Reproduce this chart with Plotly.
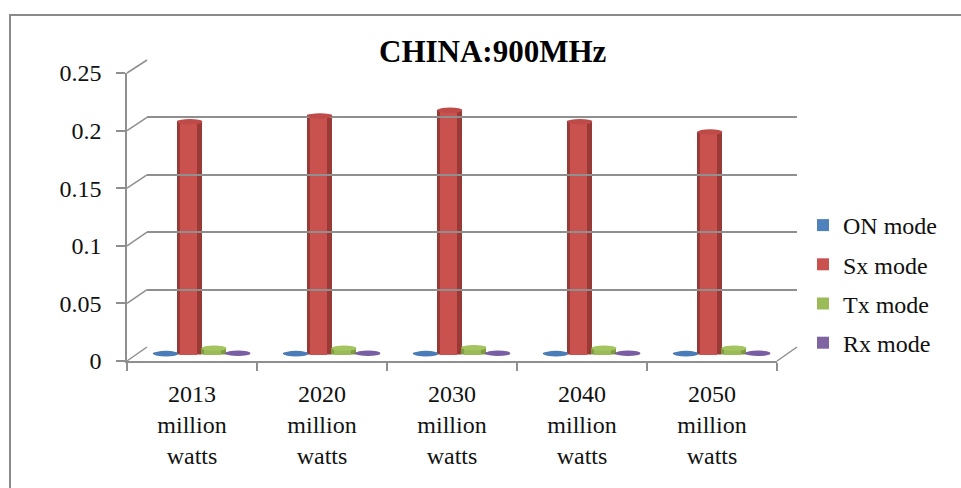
import plotly.graph_objects as go

# ---- data -------------------------------------------------------------
years = ["2013", "2020", "2030", "2040", "2050"]
category_labels = [f"{y}<br>million<br>watts" for y in years]

series_names = ["ON mode", "Sx mode", "Tx mode", "Rx mode"]
on_mode = [0.0003, 0.0003, 0.0003, 0.0003, 0.0003]
sx_mode = [0.202, 0.207, 0.212, 0.202, 0.193]
tx_mode = [0.005, 0.005, 0.0055, 0.005, 0.005]
rx_mode = [0.0006, 0.0006, 0.0006, 0.0006, 0.0006]

y_ticks = [0, 0.05, 0.1, 0.15, 0.2, 0.25]

# ---- styling ----------------------------------------------------------
W, H = 961, 488
FONT = "Liberation Serif"
GRID = "#8f8f8f"
TEXT = "#111111"
# series colours, darker edges and cap colours for a rounded (cylinder) look
base = {"ON mode": "#4F81BD", "Sx mode": "#C9524F",
        "Tx mode": "#9BBB59", "Rx mode": "#8064A2"}
edge = {"ON mode": "#3A6699", "Sx mode": "#9A3A37",
        "Tx mode": "#7E9C41", "Rx mode": "#63488A"}
cap = {"ON mode": "#4A7CB8", "Sx mode": "#BE4B48",
       "Tx mode": "#A3C45F", "Rx mode": "#7A5EA3"}

# pseudo-3D box, pixel geometry (front face, back wall, mid depth)
FRONT_X0, FRONT_X1, FRONT_Y0, FRONT_Y1 = 127, 777, 361, 73
BACK_X0, BACK_X1, BACK_Y0, BACK_Y1 = 147, 797, 347, 60
MID_X0, MID_X1, MID_Y0, MID_Y1 = 137, 787, 354, 66.5
Y_MAX = 0.25
Y_PAD = 0.0005   # keeps the top back-wall gridline inside the range
Y_LO = -0.005    # room below zero so floor-level caps are not clipped
CAP_HALF = 2.8 * Y_MAX / (MID_Y0 - MID_Y1)  # half cap height, ~2.8 px


def px(x):
    return x / W


def py(y):
    return 1 - y / H


def front_y(v):
    return FRONT_Y0 + (FRONT_Y1 - FRONT_Y0) * v / Y_MAX


def back_y(v):
    return BACK_Y0 + (BACK_Y1 - BACK_Y0) * v / Y_MAX


def mid_y(v):
    return MID_Y0 + (MID_Y1 - MID_Y0) * v / Y_MAX


fig = go.Figure()

values = [on_mode, sx_mode, tx_mode, rx_mode]
bar_w = 0.19
step = 0.185
centers = [-1.5 * step, -0.5 * step, 0.5 * step, 1.5 * step]

# darker cylinder outlines
for name, vals, c in zip(series_names, values, centers):
    fig.add_trace(go.Bar(
        x=years, y=vals, name=name, legendgroup=name, showlegend=False,
        width=bar_w, offset=c - bar_w / 2,
        marker=dict(color=edge[name], line=dict(color=edge[name], width=1)),
        xaxis="x", yaxis="y", hoverinfo="skip",
    ))
# main cylinder faces (legend entries)
for name, vals, c in zip(series_names, values, centers):
    w2 = bar_w * 0.72
    fig.add_trace(go.Bar(
        x=years, y=vals, name=name, legendgroup=name,
        width=w2, offset=c - bar_w / 2 + bar_w * 0.08,
        marker=dict(color=base[name], line=dict(width=0)),
        xaxis="x", yaxis="y", hoverinfo="skip",
    ))

# back wall grid holder and front axes holder
fig.add_trace(go.Scatter(x=[0, 1], y=[0, 0], mode="none", showlegend=False,
                         xaxis="x2", yaxis="y2", hoverinfo="skip"))
fig.add_trace(go.Scatter(x=years, y=[0] * len(years), mode="none",
                         showlegend=False, xaxis="x3", yaxis="y3",
                         hoverinfo="skip"))

shapes = []
# elliptical cylinder tops, placed from each bar's value
for name, vals, c in zip(series_names, values, centers):
    for i, v in enumerate(vals):
        shapes.append(dict(type="circle", xref="x", yref="y",
                           x0=i + c - bar_w / 2, x1=i + c + bar_w / 2,
                           y0=v - CAP_HALF, y1=v + CAP_HALF,
                           fillcolor=cap[name], line=dict(width=0),
                           layer="above"))

# side-wall / floor diagonals joining the front axis to the back wall
for v in y_ticks:
    shapes.append(dict(type="line", xref="paper", yref="paper",
                       x0=px(FRONT_X0), y0=py(front_y(v)),
                       x1=px(BACK_X0), y1=py(back_y(v)),
                       line=dict(color=GRID, width=1.5), layer="below"))
shapes.append(dict(type="line", xref="paper", yref="paper",
                   x0=px(FRONT_X1), y0=py(front_y(0)),
                   x1=px(BACK_X1), y1=py(back_y(0)),
                   line=dict(color=GRID, width=1.5), layer="below"))
# outer chart frame
shapes.append(dict(type="rect", xref="paper", yref="paper",
                   x0=px(10), y0=py(15), x1=1.05, y1=-0.05,
                   line=dict(color="#8a8a8a", width=2), layer="below"))

fig.update_layout(
    width=W, height=H,
    margin=dict(l=0, r=0, t=0, b=0, autoexpand=False),
    paper_bgcolor="white", plot_bgcolor="rgba(0,0,0,0)",
    barmode="overlay", bargap=0,
    font=dict(family=FONT, size=24, color=TEXT),
    showlegend=True,
    legend=dict(x=px(803), y=py(284), xanchor="left", yanchor="middle",
                traceorder="grouped", tracegroupgap=5,
                font=dict(family=FONT, size=24, color=TEXT),
                bgcolor="rgba(0,0,0,0)", itemwidth=30),
    shapes=shapes,
    annotations=[dict(text="<b>CHINA:900MHz</b>", xref="paper", yref="paper",
                      x=px(493), y=py(51), xanchor="center", yanchor="middle",
                      showarrow=False,
                      font=dict(family=FONT, size=31, color="#000000"))],
    # bars at mid depth
    xaxis=dict(domain=[px(MID_X0), px(MID_X1)], anchor="y",
               type="category", categoryarray=years, range=[-0.5, 4.5],
               visible=False, automargin=False),
    yaxis=dict(domain=[py(mid_y(Y_LO)), py(MID_Y1)], anchor="x",
               range=[Y_LO, Y_MAX], visible=False, automargin=False),
    # back wall with gridlines
    xaxis2=dict(domain=[px(BACK_X0), px(BACK_X1)], anchor="y2",
                range=[0, 1], visible=False, automargin=False),
    yaxis2=dict(domain=[py(BACK_Y0), py(back_y(Y_MAX + Y_PAD))], anchor="x2",
                range=[0, Y_MAX + Y_PAD], tickvals=y_ticks, showgrid=True,
                gridcolor=GRID, gridwidth=1.5, zeroline=False,
                showticklabels=False, ticks="", showline=False,
                automargin=False),
    # front axes carrying the labels
    xaxis3=dict(domain=[px(FRONT_X0), px(FRONT_X1)], anchor="y3",
                type="category", categoryarray=years, range=[-0.5, 4.5],
                tickvals=years, ticktext=category_labels,
                tickson="boundaries", ticks="outside", ticklen=8,
                tickcolor=GRID, tickwidth=1.5, ticklabelstandoff=10,
                showline=True, linecolor=GRID, linewidth=1.5,
                showgrid=False, zeroline=False, automargin=False,
                tickfont=dict(family=FONT, size=24, color=TEXT)),
    yaxis3=dict(domain=[py(FRONT_Y0), py(FRONT_Y1)], anchor="x3",
                range=[0, Y_MAX], tickvals=y_ticks,
                ticktext=[f"{v:g}" for v in y_ticks],
                ticks="outside", ticklen=9, tickcolor=GRID, tickwidth=1.5,
                ticklabelstandoff=10,
                showline=True, linecolor=GRID, linewidth=1.5,
                showgrid=False, zeroline=False, automargin=False,
                tickfont=dict(family=FONT, size=24, color=TEXT)),
)

fig.write_html("out.html")
